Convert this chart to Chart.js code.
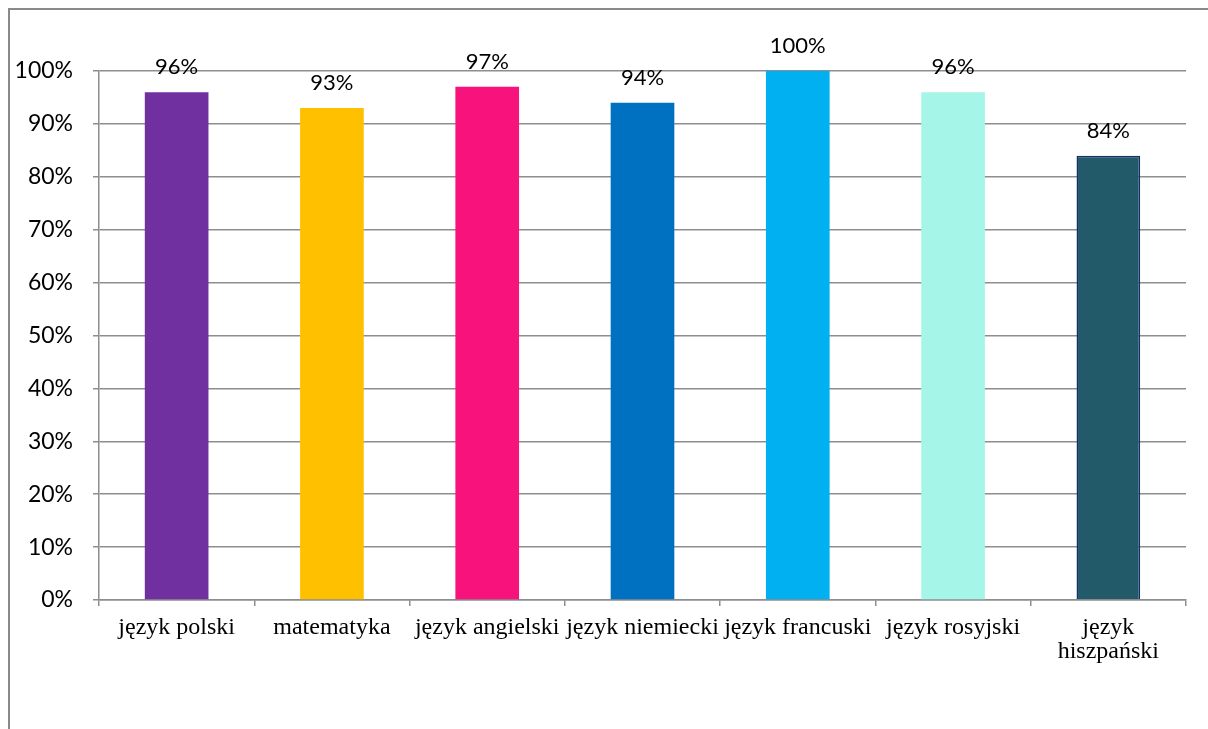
<!DOCTYPE html>
<html>
<head>
<meta charset="utf-8">
<script src="https://cdn.jsdelivr.net/npm/chart.js@4"></script>
<style>
    html, body { margin: 0; padding: 0; background: #fff; }
    #wrap { width: 1208px; height: 729px; position: relative; }
</style>
</head>
<body>
<div id="wrap"><canvas id="chart" width="1208" height="729"></canvas></div>
<script>
// dane z wykresu
const categories = ['język polski', 'matematyka', 'język angielski', 'język niemiecki', 'język francuski', 'język rosyjski', ['język', 'hiszpański']];
const values = [96, 93, 97, 94, 100, 96, 84];
const barColors = ['#7030A0', '#FFC000', '#F7137B', '#0070C0', '#00B0F0', '#A6F5E9', '#225A69'];
const barBorders = ['#7030A0', '#FFC000', '#F7137B', '#0070C0', '#00B0F0', '#A6F5E9', '#12306A'];
const yTicks = [0, 10, 20, 30, 40, 50, 60, 70, 80, 90, 100];

const gridColor = '#8e8e8e';

// ramka wokół wykresu
const framePlugin = {
    id: 'frame',
    beforeDraw(chart) {
        const ctx = chart.ctx;
        ctx.save();
        ctx.strokeStyle = '#8a8a8a';
        ctx.lineWidth = 2;
        ctx.beginPath();
        ctx.moveTo(9, 729);
        ctx.lineTo(9, 9);
        ctx.lineTo(1208, 9);
        ctx.stroke();
        ctx.restore();
    }
};

// etykiety wartości nad słupkami
const valueLabels = {
    id: 'valueLabels',
    afterDatasetsDraw(chart) {
        const ctx = chart.ctx;
        const meta = chart.getDatasetMeta(0);
        ctx.save();
        ctx.font = '22px Lato, "Open Sans", sans-serif';
        ctx.fillStyle = '#000';
        ctx.textAlign = 'center';
        ctx.textBaseline = 'middle';
        meta.data.forEach((bar, i) => {
            ctx.fillText(values[i] + '%', bar.x, bar.y - 25);
        });
        ctx.restore();
    }
};

new Chart(document.getElementById('chart').getContext('2d'), {
    type: 'bar',
    data: {
        labels: categories,
        datasets: [{
            data: values,
            backgroundColor: barColors,
            borderColor: barBorders,
            borderWidth: values.map((v, i) => i === 6 ? 1.5 : 0),
            barPercentage: 0.41,
            categoryPercentage: 1
        }]
    },
    options: {
        responsive: false,
        animation: false,
        layout: { padding: { top: 71, right: 22, left: 0, bottom: 0 } },
        plugins: {
            legend: { display: false },
            tooltip: { enabled: false }
        },
        scales: {
            x: {
                offset: true,
                grid: { display: true, drawOnChartArea: false, offset: true, tickLength: 6, color: gridColor, lineWidth: 1.5 },
                border: { display: true, color: gridColor, width: 1.5 },
                ticks: {
                    autoSkip: false,
                    maxRotation: 0,
                    minRotation: 0,
                    padding: 10,
                    color: '#000',
                    font: { family: '"Liberation Serif", "Times New Roman", serif', size: 24, lineHeight: 1.0 }
                },
                afterFit(scale) { scale.height = 129; }
            },
            y: {
                min: 0,
                max: 100,
                afterBuildTicks(scale) { scale.ticks = yTicks.map(v => ({ value: v })); },
                grid: { color: gridColor, lineWidth: 1.5, tickLength: 6 },
                border: { display: true, color: gridColor, width: 1.5 },
                ticks: {
                    padding: 20,
                    color: '#000',
                    font: { family: 'Lato, "Open Sans", sans-serif', size: 23 },
                    callback: v => v + '%'
                },
                afterFit(scale) { scale.width = 99; }
            }
        }
    },
    plugins: [framePlugin, valueLabels]
});
</script>
</body>
</html>
